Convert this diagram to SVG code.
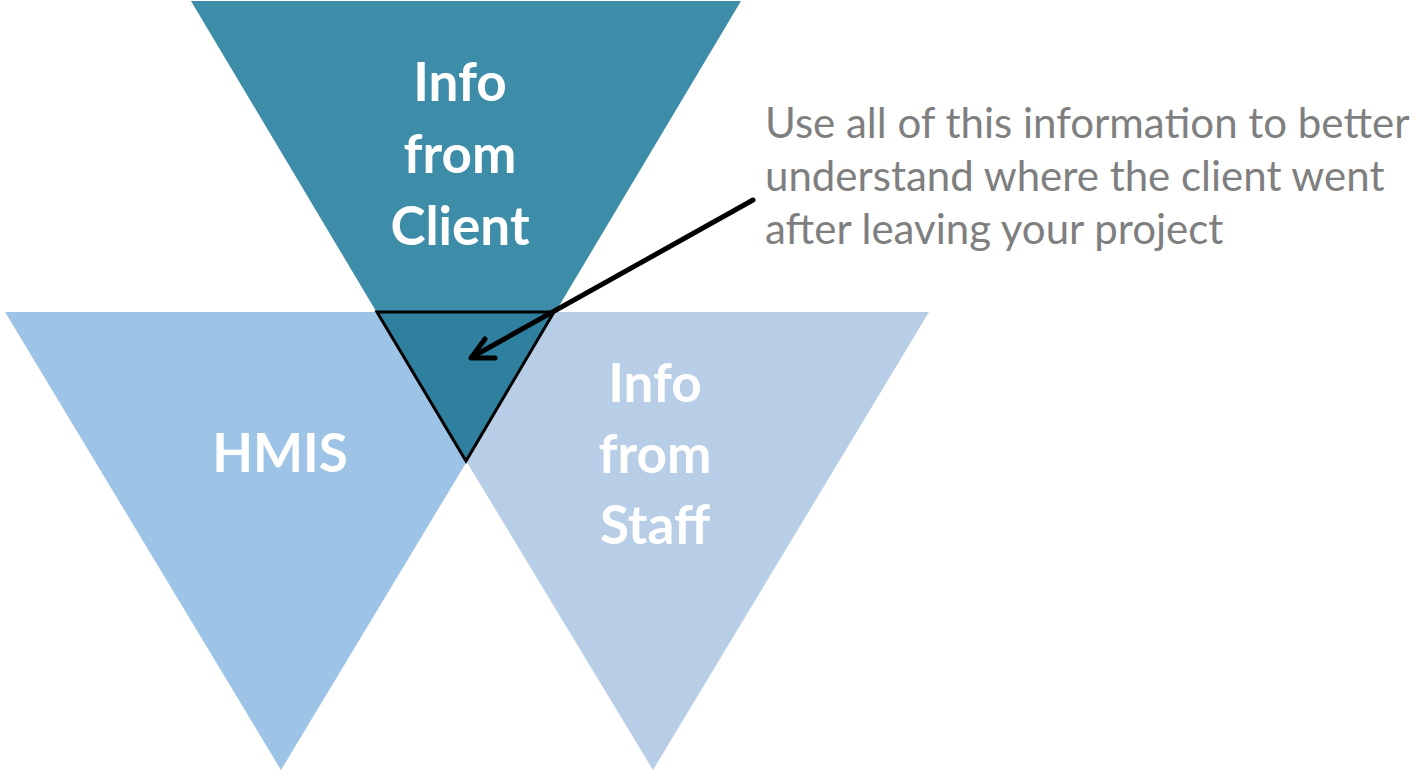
<svg xmlns="http://www.w3.org/2000/svg" width="1414" height="772" viewBox="0 0 1414 772">
  <style>
    .label { font-family: Lato, "Open Sans", "Liberation Sans", sans-serif; font-weight: bold; font-size: 53px; fill: #ffffff; text-anchor: middle; }
    .note { font-family: Lato, "Open Sans", "Liberation Sans", sans-serif; font-size: 42px; fill: #7f7f7f; }
    .link { stroke: #000000; stroke-width: 5; fill: none; stroke-linecap: round; stroke-linejoin: round; }
  </style>
  <rect width="1414" height="772" fill="#ffffff"/>

  <!-- three inverted triangles -->
  <g id="client">
    <polygon points="191,1 741,1 466,462" fill="#3d8ca8"/>
  </g>
  <g id="hmis">
    <polygon points="5,312 557,312 281,770" fill="#9dc3e6"/>
    <text class="label" x="280" y="472">HMIS</text>
  </g>
  <g id="staff">
    <polygon points="376,312 929,312 653,770" fill="#b7cee6"/>
    <text class="label" x="655" y="402">Info</text>
    <text class="label" x="655" y="473">from</text>
    <text class="label" x="655" y="544">Staff</text>
  </g>
  <g id="client-label">
    <text class="label" x="460" y="101">Info</text>
    <text class="label" x="460" y="173">from</text>
    <text class="label" x="460" y="245">Client</text>
  </g>
  <!-- shared centre where all three meet -->
  <g id="overlap">
    <polygon points="377,312 554,312 466,461" fill="#2e809e" stroke="#000000" stroke-width="3" stroke-linejoin="miter"/>
  </g>

  <g id="connectors">
    <line class="link" x1="753" y1="200" x2="472" y2="357"/>
    <polyline class="link" points="485,339 471,358 495,358"/>
  </g>

  <g id="note">
    <text class="note" x="765" y="138">Use all of this information to better</text>
    <text class="note" x="765" y="191">understand where the client went</text>
    <text class="note" x="765" y="244">after leaving your project</text>
  </g>
</svg>
